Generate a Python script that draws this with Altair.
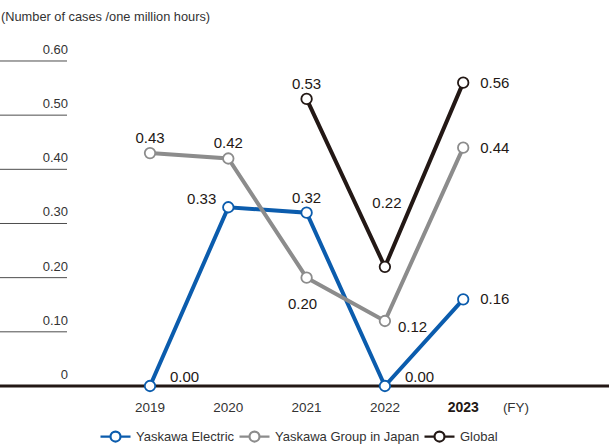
import altair as alt
import pandas as pd

# ---------------- data ----------------
years = [2019, 2020, 2021, 2022, 2023]
series_names = ["Yaskawa Electric", "Yaskawa Group in Japan", "Global"]
electric = [0.00, 0.33, 0.32, 0.00, 0.16]
japan = [0.43, 0.42, 0.20, 0.12, 0.44]
global_vals = [None, None, 0.53, 0.22, 0.56]
# where each value label sits relative to its point
electric_lab = ["upright", "left", "above", "upright", "right"]
japan_lab = ["above", "above", "below", "downright", "right"]
global_lab = [None, None, "above", "farabove", "right"]

y_ticks = [0.6, 0.5, 0.4, 0.3, 0.2, 0.1, 0.0]
y_tick_labels = ["0.60", "0.50", "0.40", "0.30", "0.20", "0.10", "0"]
colors = ["#0b5cad", "#8c8c8c", "#231815"]

NARROW = "Liberation Sans Narrow, Arial Narrow, Liberation Sans, sans-serif"
REG = "Liberation Sans, Arial, sans-serif"
TXT = "#231815"

rows = []
for name, vals, labs in [(series_names[0], electric, electric_lab),
                         (series_names[1], japan, japan_lab),
                         (series_names[2], global_vals, global_lab)]:
    for yr, v, lp in zip(years, vals, labs):
        if v is None:
            continue
        rows.append({"series": name, "year": yr, "value": v,
                     "label": f"{v:.2f}", "pos": lp})
df = pd.DataFrame(rows)

ticks_df = pd.DataFrame({"v": y_ticks, "t": y_tick_labels})
years_df = pd.DataFrame({"year": years, "ylab": [str(y) for y in years]})

xs = alt.Scale(domain=[2017.0843, 2024.862], nice=False, zero=False)
ys = alt.Scale(domain=[-0.1108, 0.7126], nice=False, zero=False)
X = alt.X("year:Q", scale=xs, axis=None)
Y = alt.Y("value:Q", scale=ys, axis=None)
cscale = alt.Scale(domain=series_names, range=colors)

legend_path = "M-3,0H-1M1,0H3M-1,0A1,1,0,1,0,1,0A1,1,0,1,0,-1,0Z"

grid = alt.Chart(ticks_df).transform_filter("datum.v > 0").mark_rule(
    color="#4d4d4d", strokeWidth=1
).encode(x=alt.value(0), x2=alt.value(67), y=alt.Y("v:Q", scale=ys, axis=None))

base_line = alt.Chart(ticks_df).transform_filter("datum.v == 0").mark_rule(
    color=TXT, strokeWidth=3
).encode(x=alt.value(0), x2=alt.value(609), y=alt.Y("v:Q", scale=ys, axis=None))

ylabels = alt.Chart(ticks_df).mark_text(
    align="right", baseline="alphabetic", dy=-7, font=NARROW, fontSize=13, color="#333333"
).encode(x=alt.value(68), y=alt.Y("v:Q", scale=ys, axis=None), text="t:N")

lines = alt.Chart(df).mark_line(strokeWidth=4).encode(
    x=X, y=Y,
    color=alt.Color("series:N", scale=cscale, legend=alt.Legend(
        title=None, orient="none", legendX=109, legendY=430, direction="horizontal",
        symbolType=legend_path, symbolSize=100, symbolStrokeWidth=2.2,
        symbolFillColor="white", labelFont=NARROW, labelFontSize=13, labelColor="#333333",
        labelOffset=14, columnPadding=0, padding=0)),
    order=alt.Order("year:Q"),
)

points = alt.Chart(df).mark_point(
    shape="circle", filled=True, fill="white", size=110, strokeWidth=1.8, opacity=1
).encode(x=X, y=Y, stroke=alt.Stroke("series:N", scale=cscale, legend=None))

label_specs = {
    "above": dict(align="center", baseline="middle", dx=0, dy=-15),
    "farabove": dict(align="center", baseline="middle", dx=2, dy=-64),
    "below": dict(align="center", baseline="middle", dx=-4, dy=26),
    "left": dict(align="right", baseline="middle", dx=-12, dy=-8),
    "right": dict(align="left", baseline="middle", dx=17, dy=0),
    "upright": dict(align="left", baseline="middle", dx=20, dy=-9),
    "downright": dict(align="left", baseline="middle", dx=13, dy=6),
}
label_layers = []
for pos, spec in label_specs.items():
    label_layers.append(
        alt.Chart(df).transform_filter(alt.datum.pos == pos).mark_text(
            font=REG, fontSize=15, color=TXT, **spec
        ).encode(x=X, y=Y, text="label:N")
    )

xlabels = alt.Chart(years_df).transform_filter("datum.year != 2023").mark_text(
    font=NARROW, fontSize=13.5, baseline="middle", color="#333333"
).encode(x=X, y=alt.value(408), text="ylab:N")

xlabel_last = alt.Chart(years_df).transform_filter("datum.year == 2023").mark_text(
    font=NARROW, fontSize=14, baseline="middle", color=TXT, fontWeight="bold"
).encode(x=X, y=alt.value(408), text="ylab:N")

fy = alt.Chart(years_df).transform_filter("datum.year == 2023").mark_text(
    font=NARROW, fontSize=13.5, baseline="middle", align="center", color="#333333", text="(FY)"
).encode(x=alt.value(516), y=alt.value(408))

title = alt.Chart(years_df).transform_filter("datum.year == 2023").mark_text(
    font=NARROW, fontSize=12.8, baseline="middle", align="left", color="#333333",
    text="(Number of cases /one million hours)"
).encode(x=alt.value(1), y=alt.value(17))

chart = alt.layer(
    grid, base_line, ylabels, lines, points, *label_layers, xlabels, xlabel_last, fy, title
).properties(
    width=609, height=446, padding=0, autosize=alt.AutoSizeParams(type="none")
).configure_view(stroke=None)

chart.save("out.html", embed_options={"renderer": "svg", "actions": False})
